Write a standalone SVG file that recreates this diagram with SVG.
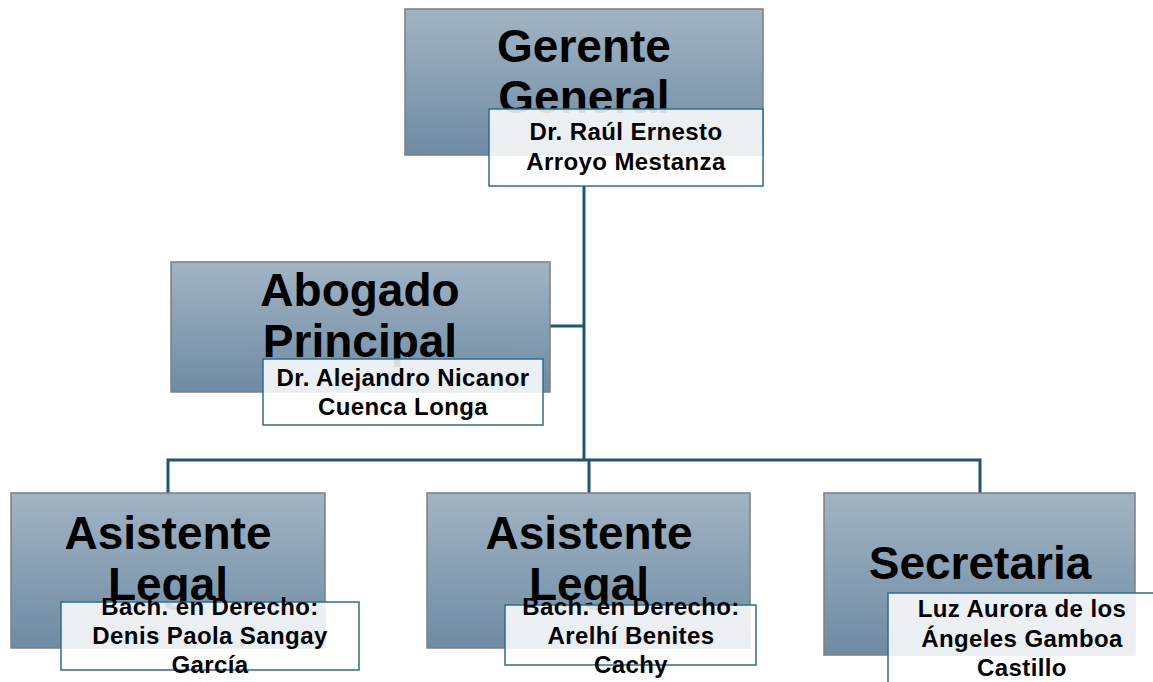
<svg xmlns="http://www.w3.org/2000/svg" width="1153" height="682" viewBox="0 0 1153 682">
<defs>
<linearGradient id="g" x1="0" y1="0" x2="0" y2="1">
<stop offset="0" stop-color="#a2b4c4"/>
<stop offset="1" stop-color="#6e8ba3"/>
</linearGradient>
<style>
.box{fill:url(#g);stroke:#7a7f84;stroke-width:1.5}
.nb{fill:#ffffff;fill-opacity:0.86;stroke:#2e6d8e;stroke-width:1.5}
.t{font-family:"Liberation Sans",Arial,sans-serif;font-weight:bold;font-size:46px;fill:#000;text-anchor:middle}
.n{font-family:"Liberation Sans",Arial,sans-serif;font-weight:bold;font-size:24px;letter-spacing:0.4px;fill:#000;text-anchor:middle}
.c{fill:none;stroke:#1f5673;stroke-width:3}
</style>
</defs>
<rect width="1153" height="682" fill="#fff"/>
<g id="connectors">
<path class="c" d="M584 186V460"/>
<path class="c" d="M550 326H584"/>
<path class="c" d="M168 493V460H980V493"/>
<path class="c" d="M589 460V493"/>
</g>
<g id="gerente">
<rect class="box" x="405" y="9" width="358" height="146"/>
<text class="t" x="584" y="62">Gerente</text>
<text class="t" x="584" y="113">General</text>
<rect class="nb" x="489" y="109" width="274" height="77"/>
<text class="n" x="626" y="140">Dr. Raúl Ernesto</text>
<text class="n" x="626" y="170">Arroyo Mestanza</text>
</g>
<g id="abogado">
<rect class="box" x="171" y="262" width="379" height="130"/>
<text class="t" x="360" y="306">Abogado</text>
<text class="t" x="360" y="357">Principal</text>
<rect class="nb" x="263" y="359" width="280" height="66"/>
<text class="n" x="403" y="386">Dr. Alejandro Nicanor</text>
<text class="n" x="403" y="415">Cuenca Longa</text>
</g>
<g id="asistente1">
<rect class="box" x="11" y="493" width="314" height="155"/>
<text class="t" x="168" y="549">Asistente</text>
<text class="t" x="168" y="600">Legal</text>
<rect class="nb" x="61" y="602" width="298" height="68"/>
<text class="n" x="210" y="615">Bach. en Derecho:</text>
<text class="n" x="210" y="644">Denis Paola Sangay</text>
<text class="n" x="210" y="673">García</text>
</g>
<g id="asistente2">
<rect class="box" x="427" y="493" width="323" height="155"/>
<text class="t" x="589" y="549">Asistente</text>
<text class="t" x="589" y="600">Legal</text>
<rect class="nb" x="505" y="605" width="251" height="60"/>
<text class="n" x="631" y="615">Bach. en Derecho:</text>
<text class="n" x="631" y="644">Arelhí Benites</text>
<text class="n" x="631" y="673">Cachy</text>
</g>
<g id="secretaria">
<rect class="box" x="824" y="493" width="311" height="162"/>
<text class="t" x="980" y="579">Secretaria</text>
<rect class="nb" x="888" y="593" width="270" height="95"/>
<text class="n" x="1022" y="617">Luz Aurora de los</text>
<text class="n" x="1022" y="647">Ángeles Gamboa</text>
<text class="n" x="1022" y="676">Castillo</text>
</g>
</svg>
